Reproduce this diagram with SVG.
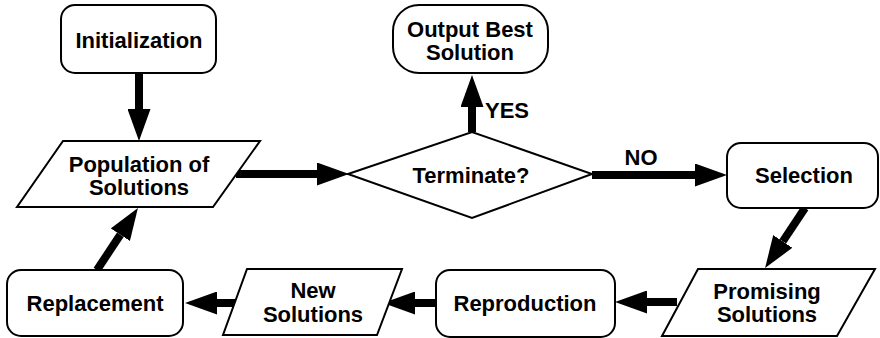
<svg xmlns="http://www.w3.org/2000/svg" width="880" height="338" viewBox="0 0 880 338">
<style>
.box{fill:#fff;stroke:#000;stroke-width:2}
.t{font-family:"Liberation Sans",Arial,sans-serif;font-weight:bold;font-size:22px;text-anchor:middle;fill:#000}
.c{stroke:#000;stroke-width:8;fill:none;marker-end:url(#ah)}
</style>
<defs>
<marker id="ah" markerUnits="userSpaceOnUse" markerWidth="32" markerHeight="23" refX="0" refY="11.5" orient="auto">
<path d="M0,0 L32,11.5 L0,23 z" fill="#000"/>
</marker>
</defs>
<rect width="880" height="338" fill="#fff"/>
<g id="connectors">
<line class="c" x1="139" y1="73" x2="139" y2="109"/>
<line class="c" x1="236" y1="174" x2="317" y2="174"/>
<line class="c" x1="472" y1="132" x2="472" y2="107"/>
<line class="c" x1="592" y1="175" x2="695" y2="175"/>
<line class="c" x1="805" y1="208" x2="782.8" y2="241.4"/>
<line class="c" x1="677" y1="302" x2="647" y2="302"/>
<line class="c" x1="436" y1="303" x2="415" y2="303"/>
<line class="c" x1="235" y1="303" x2="217" y2="303"/>
<line class="c" x1="97" y1="270" x2="120.3" y2="234.7"/>
<text class="t" x="507" y="118">YES</text>
<text class="t" x="641" y="165">NO</text>
</g>
<g id="initialization">
<rect class="box" x="61" y="5" width="155" height="68" rx="14"/>
<text class="t" x="139" y="48">Initialization</text>
</g>
<g id="population">
<polygon class="box" points="63,141 260,141 213,207 17,207"/>
<text class="t" x="139" y="172">Population of</text>
<text class="t" x="139" y="195">Solutions</text>
</g>
<g id="terminate">
<polygon class="box" points="348,174 472,132 592,174 472,218"/>
<text class="t" x="471" y="183">Terminate?</text>
</g>
<g id="output">
<rect class="box" x="393" y="5" width="155" height="68" rx="26"/>
<text class="t" x="470" y="37">Output Best</text>
<text class="t" x="470" y="60">Solution</text>
</g>
<g id="selection">
<rect class="box" x="727" y="143" width="151" height="65" rx="14"/>
<text class="t" x="804" y="183">Selection</text>
</g>
<g id="promising">
<polygon class="box" points="698,269 875,269 837,336 662,336"/>
<text class="t" x="767" y="299">Promising</text>
<text class="t" x="767" y="322">Solutions</text>
</g>
<g id="reproduction">
<rect class="box" x="436" y="270" width="179" height="67" rx="14"/>
<text class="t" x="525" y="311">Reproduction</text>
</g>
<g id="new-solutions">
<polygon class="box" points="247,269 402,269 377,335 223,335"/>
<text class="t" x="313" y="298">New</text>
<text class="t" x="313" y="322">Solutions</text>
</g>
<g id="replacement">
<rect class="box" x="7" y="270" width="176" height="66" rx="14"/>
<text class="t" x="95" y="311">Replacement</text>
</g>
</svg>
